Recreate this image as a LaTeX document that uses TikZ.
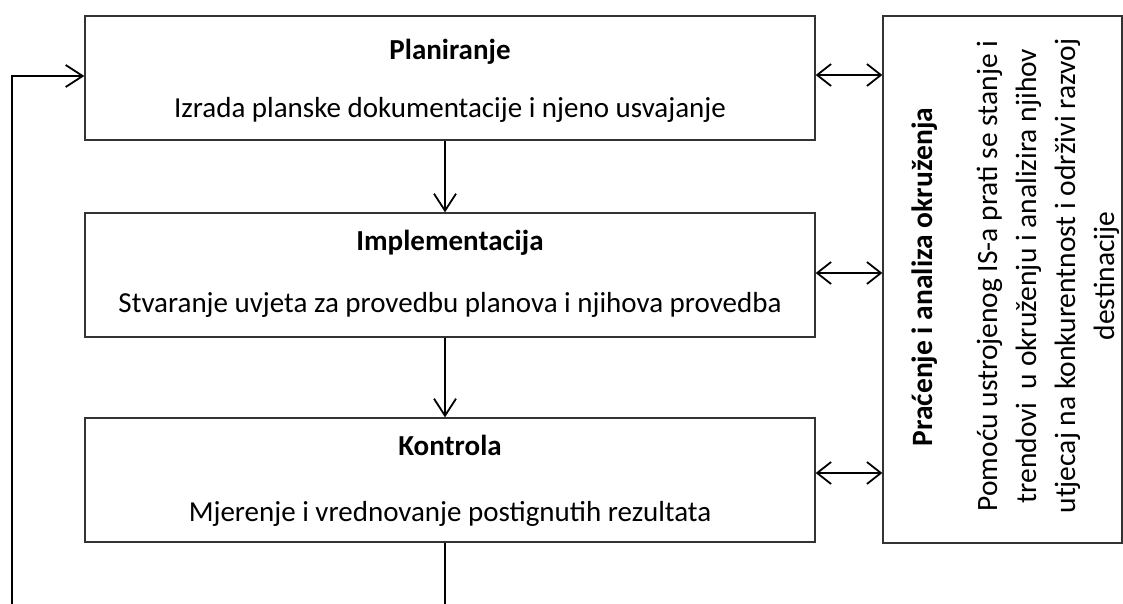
\documentclass[tikz,border=0pt]{standalone}
\usepackage{fontspec}
\setmainfont{Carlito}
\usetikzlibrary{arrows.meta, positioning}

\begin{document}
\begin{tikzpicture}[
  x=1pt, y=-1pt,
  every node/.style={font=\fontsize{29}{38}\selectfont},
  stage/.style={
    rectangle, draw=black!80, line width=1.3pt,
    minimum width=730pt, minimum height=124pt,
    inner sep=0pt,
  },
  envbox/.style={
    rectangle, draw=black!80, line width=1.3pt,
    minimum width=239pt, minimum height=527pt,
    inner sep=0pt,
  },
  title/.style={font=\fontsize{29}{38}\selectfont\bfseries},
  envtitle/.style={font=\fontsize{29.5}{39}\selectfont\bfseries},
  envtext/.style={font=\fontsize{29.5}{39}\selectfont},
  arrow/.style={-{Straight Barb[length=17pt, width=22pt, line width=1.8pt]}, line width=1.8pt},
  biarrow/.style={{Straight Barb[length=14pt, width=22pt, line width=1.8pt]}-{Straight Barb[length=14pt, width=22pt, line width=1.8pt]}, line width=1.8pt},
]
\useasboundingbox (0,0) rectangle (1123,603);

% stages of the cycle
\node[stage]  (plan) at (450,78)  {};
\node[stage]  (impl) at (450,275) {};
\node[stage]  (ctrl) at (450,480) {};
\node[envbox] (env)  at (1002.5,279.5) {};

\node[title] (planT) at (450,52)  {Planiranje};
\node        (planD) at (450,110) {Izrada planske dokumentacije i njeno usvajanje};
\node[title] (implT) at (450,243) {Implementacija};
\node        (implD) at (450,305) {Stvaranje uvjeta za provedbu planova i njihova provedba};
\node[title] (ctrlT) at (450,445) {Kontrola};
\node        (ctrlD) at (450,514) {Mjerenje i vrednovanje postignutih rezultata};

% environment monitoring (rotated text)
\node[envtitle, rotate=90] (envT) at (925,277) {Praćenje i analiza okruženja};
\node[envtext, rotate=90, align=center] (envD) at (1048,276)
  {Pomoću ustrojenog IS-a prati se stanje i\\
   trendovi \ u okruženju i analizira njihov\\
   utjecaj na konkurentnost i održivi razvoj\\
   destinacije};

% vertical flow
\draw[arrow] ([xshift=-5pt]plan.south) -- ([xshift=-5pt]impl.north);
\draw[arrow] ([xshift=-5pt]impl.south) -- ([xshift=-5pt]ctrl.north);

% feedback loop
\draw[arrow] ([xshift=-5pt]ctrl.south) -- ++(0,80) -| (12,76) -- (plan.west |- 0,76);

% links to environment
\draw[biarrow] ([yshift=3pt]plan.east) -- ([yshift=3pt]plan.east -| env.west);
\draw[biarrow] ([yshift=2pt]impl.east) -- ([yshift=2pt]impl.east -| env.west);
\draw[biarrow] ([yshift=7pt]ctrl.east) -- ([yshift=7pt]ctrl.east -| env.west);

\end{tikzpicture}
\end{document}
